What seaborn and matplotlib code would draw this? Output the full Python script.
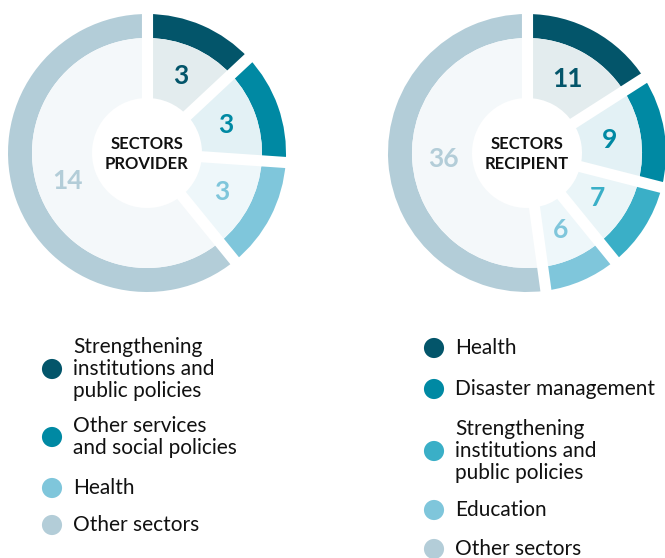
import numpy as np
import matplotlib.pyplot as plt
import seaborn as sns

# data
provider_labels = ['Strengthening\ninstitutions and\npublic policies',
                   'Other services\nand social policies',
                   'Health', 'Other sectors']
provider_values = [3, 3, 3, 14]
provider_colors = ['#03556a', '#0089a3', '#7fc6db', '#b3cdd8']
provider_fills = ['#e3ecee', '#e3f1f5', '#eef7fa', '#f4f8fa']

recipient_labels = ['Health', 'Disaster management',
                    'Strengthening\ninstitutions and\npublic policies',
                    'Education', 'Other sectors']
recipient_values = [11, 9, 7, 6, 36]
recipient_colors = ['#03556a', '#0089a3', '#3aafc7', '#7fc6db', '#b3cdd8']
recipient_fills = ['#e3ecee', '#e3f1f5', '#eaf5f8', '#eef7fa', '#f4f8fa']

sns.set_theme(style='white')
plt.rcParams['font.family'] = ['Lato', 'DejaVu Sans']

W, H = 665, 558
fig = plt.figure(figsize=(W / 100, H / 100), dpi=100)
ax = fig.add_axes([0, 0, 1, 1])


def donut(cx, cy, values, colors, fills, title):
    cy = H - cy
    R, ring, r_in, hole = 139, 24, 115, 55
    ax.pie(values, colors=colors, radius=R, center=(cx, cy), startangle=90,
           counterclock=False, wedgeprops=dict(width=ring, linewidth=0))
    ax.pie(values, colors=fills, radius=r_in, center=(cx, cy), startangle=90,
           counterclock=False, wedgeprops=dict(width=r_in - hole, linewidth=0))
    total = sum(values)
    edges = 90 - 360 * np.cumsum([0] + values) / total
    # white gaps between segments
    for a in edges[:-1]:
        t = np.deg2rad(a)
        ax.plot([cx, cx + (R + 5) * np.cos(t)], [cy, cy + (R + 5) * np.sin(t)],
                color='white', lw=8, solid_capstyle='butt', zorder=3)
    for v, c, a0, a1 in zip(values, colors, edges[:-1], edges[1:]):
        t = np.deg2rad((a0 + a1) / 2)
        ax.text(cx + 84 * np.cos(t), cy + 84 * np.sin(t), str(v), color=c,
                fontsize=19, fontweight='bold', ha='center', va='center', zorder=4)
    ax.text(cx, cy - 1, title, ha='center', va='center', fontsize=12,
            fontweight='bold', color='#111111', linespacing=1.3, zorder=4)


def legend(x, ys, labels, colors):
    sns.scatterplot(x=[x] * len(ys), y=[H - y for y in ys], hue=labels,
                    palette=colors, s=210, edgecolor='none', legend=False, ax=ax)
    for y, lab in zip(ys, labels):
        ax.text(x + 21, H - y, lab, ha='left', va='center', fontsize=15,
                color='#111111', linespacing=1.1)


donut(147, 153, provider_values, provider_colors, provider_fills, 'SECTORS\nPROVIDER')
donut(527, 153, recipient_values, recipient_colors, recipient_fills, 'SECTORS\nRECIPIENT')

legend(52, [369, 437, 488, 525], provider_labels, provider_colors)
legend(434, [348, 389, 451, 510, 549], recipient_labels, recipient_colors)

ax.set_xlim(0, W)
ax.set_ylim(0, H)
ax.set_aspect('equal')
ax.axis('off')

fig.savefig('out.png', dpi=100)
